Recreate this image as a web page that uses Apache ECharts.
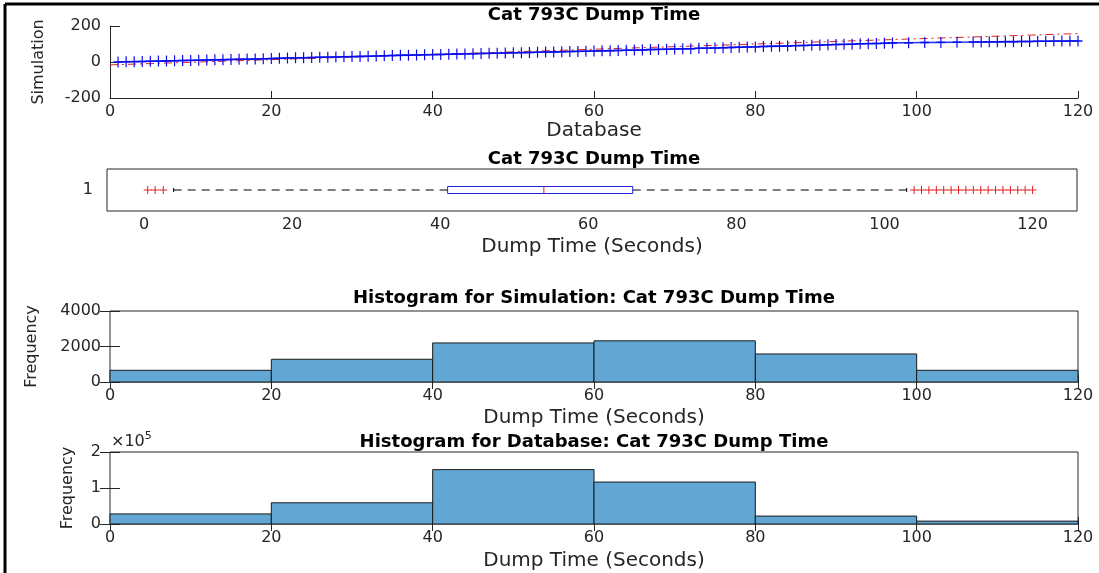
<!DOCTYPE html>
<html>
<head>
<meta charset="utf-8">
<title>Cat 793C Dump Time</title>
<script src="https://cdn.jsdelivr.net/npm/echarts@6/dist/echarts.min.js"></script>
<style>
html, body { margin: 0; padding: 0; background: #fff; }
#container { width: 1099px; height: 573px; }
</style>
</head>
<body>
<div id="container"></div>
<script>
// quantile plot: sorted database times vs sorted simulation times
var dbX = [1, 2, 3, 4, 5, 6, 7, 8, 9, 10,
    11, 12, 13, 14, 15, 16, 17, 18, 19, 20,
    21, 22, 23, 24, 25, 26, 27, 28, 29, 30,
    31, 32, 33, 34, 35, 36, 37, 38, 39, 40,
    41, 42, 43, 44, 45, 46, 47, 48, 49, 50,
    51, 52, 53, 54, 55, 56, 57, 58, 59, 60,
    61, 62, 63, 64, 65, 66, 67, 68, 69, 70,
    71, 72, 73, 74, 75, 76, 77, 78, 79, 80,
    81, 82, 83, 84, 85, 86, 87, 88, 89, 90,
    91, 92, 93, 94, 95, 96, 97, 99, 101, 103, 105, 107,
    108, 109, 110, 111, 112, 113, 114, 115, 116, 117, 118, 119, 120];
var simY = [0, 1, 2, 3, 4, 5, 6, 7, 8, 9,
    10, 11, 12, 13, 14, 15, 16, 17, 18, 19,
    21, 22, 23, 24, 25, 26, 27, 28, 29, 30,
    31, 32, 33, 35, 36, 37, 38, 39, 40, 41,
    42, 43, 44, 45, 46, 47, 48, 49, 50, 51,
    52, 53, 54, 55, 56, 57, 58, 59, 60, 61,
    62, 63, 64, 65, 66, 67, 69, 70, 71, 72,
    73, 74, 76, 77, 78, 79, 81, 82, 83, 84,
    86, 87, 88, 89, 91, 92, 93, 94, 96, 97,
    98, 99, 101, 102, 103, 104, 106, 107, 108, 109, 110, 111,
    111, 112, 112, 113, 113, 114, 114, 115, 115, 116, 116, 117, 117];
// reference line of the qq plot
var fitX = [0, 120];
var fitY = [-16, 158];

// boxplot: lower whisker, Q1, median, Q3, upper whisker
var boxStats = [4, 41, 54, 66, 103];
var outliers = [0.5, 1.5, 2.6, 104, 105, 106, 107, 108, 109, 110, 111, 112,
    113, 114, 115, 116, 117, 118, 119, 120];

// histograms
var binEdges = [0, 20, 40, 60, 80, 100, 120];
var simCounts = [660, 1280, 2200, 2320, 1580, 660];
var dbCounts = [28000, 59000, 151000, 116500, 22000, 8000];
var xTicks = [0, 20, 40, 60, 80, 100, 120];

var ink = '#262626';
var font = 'DejaVu Sans';
var barColor = '#62a6d4';
var plusPath = 'path://M0,5L10,5M5,0L5,10';

function pairs(xs, ys) {
    return xs.map(function (x, i) { return [x, ys[i]]; });
}
function bins(counts) {
    return counts.map(function (c, i) { return [binEdges[i], binEdges[i + 1], c]; });
}
function plain(v) { return String(v); }

var dom = document.getElementById('container');
var myChart = echarts.init(dom, null, { renderer: 'canvas' });

function bottomAxis(grid, extra) {
    var ax = {
        type: 'value',
        gridIndex: grid,
        position: 'bottom',
        min: 0,
        max: 120,
        interval: 20,
        splitLine: { show: false },
        axisLine: { show: grid === 0, onZero: false, lineStyle: { color: ink } },
        axisTick: { inside: true, length: 7, lineStyle: { color: ink } },
        axisLabel: { color: ink, fontFamily: font, fontSize: 16, margin: 6 },
        name: 'Dump Time (Seconds)',
        nameLocation: 'middle',
        nameGap: 26,
        nameTextStyle: { color: ink, fontFamily: font, fontSize: 20 }
    };
    return Object.assign(ax, extra || {});
}
function topAxis(grid, extra) {
    var ax = {
        type: 'value',
        gridIndex: grid,
        position: 'top',
        min: 0,
        max: 120,
        interval: 20,
        splitLine: { show: false },
        axisLine: { show: false },
        axisTick: { inside: true, length: 7, lineStyle: { color: ink } },
        axisLabel: { show: false }
    };
    return Object.assign(ax, extra || {});
}
function leftAxis(grid, min, max, interval, extra) {
    var ax = {
        type: 'value',
        gridIndex: grid,
        position: 'left',
        min: min,
        max: max,
        interval: interval,
        splitLine: { show: false },
        axisLine: { show: grid === 0, onZero: false, lineStyle: { color: ink } },
        axisTick: { inside: true, length: 10, lineStyle: { color: ink } },
        axisLabel: { color: ink, fontFamily: font, fontSize: 16, margin: 9, formatter: plain },
        nameLocation: 'middle',
        nameTextStyle: { color: ink, fontFamily: font, fontSize: 16 }
    };
    return Object.assign(ax, extra || {});
}
function rightAxis(grid, min, max, interval) {
    return {
        type: 'value',
        gridIndex: grid,
        position: 'right',
        min: min,
        max: max,
        interval: interval,
        splitLine: { show: false },
        axisLine: { show: false },
        axisTick: { inside: true, length: 10, lineStyle: { color: ink } },
        axisLabel: { show: false }
    };
}

function renderBox(params, api) {
    var lo = api.coord([api.value(0), api.value(5)]);
    var q1 = api.coord([api.value(1), api.value(5)]);
    var med = api.coord([api.value(2), api.value(5)]);
    var q3 = api.coord([api.value(3), api.value(5)]);
    var hi = api.coord([api.value(4), api.value(5)]);
    var y = lo[1];
    var h = 7;
    var dash = { stroke: '#000', lineWidth: 1, lineDash: [8, 6] };
    var solid = { stroke: '#000', lineWidth: 1 };
    return {
        type: 'group',
        children: [
            { type: 'line', shape: { x1: lo[0], y1: y, x2: q1[0], y2: y }, style: dash },
            { type: 'line', shape: { x1: q3[0], y1: y, x2: hi[0], y2: y }, style: dash },
            { type: 'line', shape: { x1: lo[0], y1: y - 2, x2: lo[0], y2: y + 2 }, style: solid },
            { type: 'line', shape: { x1: hi[0], y1: y - 2, x2: hi[0], y2: y + 2 }, style: solid },
            { type: 'rect', shape: { x: q1[0], y: y - h / 2, width: q3[0] - q1[0], height: h },
                style: { fill: 'none', stroke: '#2020e0', lineWidth: 1 } },
            { type: 'line', shape: { x1: med[0], y1: y - h / 2, x2: med[0], y2: y + h / 2 },
                style: { stroke: '#e02020', lineWidth: 1 } }
        ]
    };
}

function renderHist(params, api) {
    var p0 = api.coord([api.value(0), api.value(2)]);
    var p1 = api.coord([api.value(1), 0]);
    return {
        type: 'rect',
        shape: { x: p0[0], y: p0[1], width: p1[0] - p0[0], height: p1[1] - p0[1] },
        style: { fill: barColor, stroke: '#1a1a1a', lineWidth: 1 }
    };
}

var titleStyle = { color: '#000', fontFamily: font, fontSize: 18, fontWeight: 'bold' };

var option = {
    backgroundColor: '#fff',
    animation: false,
    title: [
        { text: 'Cat 793C Dump Time', left: 594, top: 6, textAlign: 'center', padding: 0, textStyle: titleStyle },
        { text: 'Cat 793C Dump Time', left: 594, top: 150, textAlign: 'center', padding: 0, textStyle: titleStyle },
        { text: 'Histogram for Simulation: Cat 793C Dump Time', left: 594, top: 289, textAlign: 'center', padding: 0, textStyle: titleStyle },
        { text: 'Histogram for Database: Cat 793C Dump Time', left: 594, top: 433, textAlign: 'center', padding: 0, textStyle: titleStyle }
    ],
    grid: [
        { left: 110, top: 26, width: 968, height: 72 },
        { left: 107, top: 169, width: 970, height: 42, show: true, borderColor: ink, borderWidth: 1 },
        { left: 110, top: 311, width: 968, height: 71, show: true, borderColor: ink, borderWidth: 1 },
        { left: 110, top: 452, width: 968, height: 72, show: true, borderColor: ink, borderWidth: 1 }
    ],
    xAxis: [
        bottomAxis(0, { name: 'Database', nameGap: 23 }),
        bottomAxis(1, {
            min: -5, max: 126, interval: null,
            axisTick: { inside: true, length: 7, lineStyle: { color: ink }, customValues: xTicks },
            axisLabel: { color: ink, fontFamily: font, fontSize: 16, margin: 6, customValues: xTicks }
        }),
        topAxis(1, {
            min: -5, max: 126, interval: null,
            axisTick: { inside: true, length: 7, lineStyle: { color: ink }, customValues: xTicks }
        }),
        bottomAxis(2),
        topAxis(2),
        bottomAxis(3, { nameGap: 27 }),
        topAxis(3)
    ],
    yAxis: [
        leftAxis(0, -200, 200, 200, { name: 'Simulation', nameGap: 63 }),
        {
            type: 'category', gridIndex: 1, position: 'left', data: ['1'],
            axisLine: { show: false },
            axisTick: { inside: true, length: 10, alignWithLabel: true, lineStyle: { color: ink } },
            axisLabel: { color: ink, fontFamily: font, fontSize: 16, margin: 14 }
        },
        {
            type: 'category', gridIndex: 1, position: 'right', data: ['1'],
            axisLine: { show: false },
            axisTick: { inside: true, length: 10, alignWithLabel: true, lineStyle: { color: ink } },
            axisLabel: { show: false }
        },
        leftAxis(2, 0, 4000, 2000, { name: 'Frequency', nameGap: 70 }),
        rightAxis(2, 0, 4000, 2000),
        leftAxis(3, 0, 200000, 100000, {
            name: 'Frequency',
            nameGap: 34,
            axisLabel: {
                color: ink, fontFamily: font, fontSize: 16, margin: 9,
                formatter: function (v) { return String(v / 100000); }
            }
        }),
        rightAxis(3, 0, 200000, 100000)
    ],
    graphic: [
        {
            type: 'text', left: 111, top: 431,
            style: {
                text: '{b|×10}{s|5}',
                rich: {
                    b: { fontFamily: font, fontSize: 16, fill: ink, verticalAlign: 'bottom', lineHeight: 19 },
                    s: { fontFamily: font, fontSize: 11, fill: ink, verticalAlign: 'top', lineHeight: 19 }
                }
            }
        },
        { type: 'line', shape: { x1: 5, y1: 4, x2: 1099, y2: 4 }, style: { stroke: '#000', lineWidth: 3 } },
        { type: 'line', shape: { x1: 5, y1: 4, x2: 5, y2: 573 }, style: { stroke: '#000', lineWidth: 3 } }
    ],
    series: [
        {
            name: 'Reference',
            type: 'line',
            xAxisIndex: 0,
            yAxisIndex: 0,
            data: pairs(fitX, fitY),
            showSymbol: false,
            lineStyle: { color: '#e02020', width: 1, type: [8, 4, 2, 4] },
            z: 2
        },
        {
            name: 'Quantiles',
            type: 'line',
            xAxisIndex: 0,
            yAxisIndex: 0,
            data: pairs(dbX, simY),
            symbol: plusPath,
            symbolSize: [9, 11],
            showAllSymbol: true,
            itemStyle: { color: '#0a0af0', borderColor: '#0a0af0', borderWidth: 1.3 },
            lineStyle: { color: '#2a3ae8', width: 1.6 },
            z: 3
        },
        {
            name: 'Box',
            type: 'custom',
            xAxisIndex: 1,
            yAxisIndex: 1,
            renderItem: renderBox,
            encode: { x: [0, 1, 2, 3, 4], y: 5 },
            data: [boxStats.concat([0])]
        },
        {
            name: 'Outliers',
            type: 'scatter',
            xAxisIndex: 1,
            yAxisIndex: 1,
            symbol: plusPath,
            symbolSize: 8,
            itemStyle: { color: '#e02020', borderColor: '#e02020', borderWidth: 1, opacity: 1 },
            data: outliers.map(function (v) { return [v, 0]; })
        },
        {
            name: 'Simulation',
            type: 'custom',
            xAxisIndex: 3,
            yAxisIndex: 3,
            renderItem: renderHist,
            encode: { x: [0, 1], y: 2 },
            data: bins(simCounts)
        },
        {
            name: 'Database',
            type: 'custom',
            xAxisIndex: 5,
            yAxisIndex: 5,
            renderItem: renderHist,
            encode: { x: [0, 1], y: 2 },
            data: bins(dbCounts)
        }
    ]
};

myChart.setOption(option);
window.addEventListener('resize', myChart.resize);
</script>
</body>
</html>
